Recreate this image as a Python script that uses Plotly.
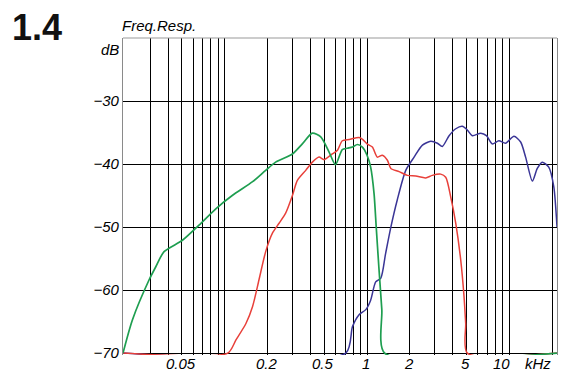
import numpy as np
import plotly.graph_objects as go

# ---- data (frequency in kHz, level in dB) ----
green_f = [0.0193, 0.0225, 0.0294, 0.0328, 0.0375, 0.0505, 0.066, 0.0866, 0.113, 0.157, 0.194, 0.228, 0.299,
           0.351, 0.413, 0.473, 0.541, 0.6, 0.67, 0.727, 0.79, 0.855, 0.927, 1.0, 1.06, 1.12, 1.16, 1.21,
           1.27, 1.33, 21.6]
green_db = [-70, -64.7, -58.4, -56.3, -53.9, -52.1, -49.7, -47.1, -45.0, -42.8, -41.0, -39.7, -38.4,
            -36.8, -35.1, -35.7, -38.1, -40.1, -37.7, -37.5, -37.3, -36.9, -37.3, -38.6, -40.5, -44.7, -50.0, -56.3,
            -63.1, -70, -70]

red_f = [0.0193, 0.105, 0.12, 0.141, 0.157, 0.174, 0.194, 0.216, 0.241, 0.268, 0.299, 0.324, 0.371, 0.413,
         0.46, 0.499, 0.57, 0.62, 0.67, 0.75, 0.879, 0.93, 1.0, 1.09, 1.18, 1.28, 1.39, 1.47, 1.68, 1.92, 2.2,
         2.58, 2.87, 3.29, 3.57, 3.87, 4.2, 4.55, 4.8, 4.93, 5.06, 21.6]
red_db = [-70, -70, -67.9, -65.3, -62.6, -58.4, -53.9, -51.0, -49.4, -47.8, -45.0, -42.6, -41.0, -39.7,
          -38.9, -39.3, -38.4, -37.8, -36.3, -36.1, -35.8, -36.1, -36.8, -37.3, -38.9, -38.6, -39.4, -40.7, -41.2, -41.8, -41.9,
          -42.2, -41.8, -41.6, -42.1, -45.2, -49.4, -55.2, -61.0, -65.3, -70, -70]

blue_f = [0.0193, 0.709, 0.79, 0.879, 0.98, 1.06, 1.15, 1.25, 1.35, 1.47, 1.63, 1.87, 2.14, 2.45, 2.8, 3.12,
          3.38, 3.77, 4.2, 4.67, 5.06, 5.49, 6.3, 6.9, 7.58, 8.44, 9.4, 10.77, 12.0, 13.0, 14.5, 15.7, 17.0,
          18.9, 20.5, 21.6]
blue_db = [-70, -70, -65.8, -63.9, -63.1, -61.6, -58.7, -58.1, -54.2, -50.0, -45.7, -41.0, -38.9, -37.0, -36.4, -36.7,
           -37.2, -35.5, -34.4, -34.0, -34.6, -35.5, -35.1, -35.5, -36.8, -36.3, -36.7, -35.6, -36.5, -38.9, -42.7, -40.7, -39.7,
           -40.5, -43.6, -50]

x_grid = [0.03, 0.04, 0.05, 0.06, 0.07, 0.08, 0.09, 0.1, 0.2, 0.3, 0.4, 0.5, 0.6, 0.7, 0.8, 0.9,
          1, 2, 3, 4, 5, 6, 7, 8, 9, 10, 20]
x_label_vals = [0.05, 0.2, 0.5, 1, 2, 5, 10]
x_label_text = ["0.05", "0.2", "0.5", "1", "2", "5", "10"]
y_tick_vals = [-70, -60, -50, -40, -30]
y_tick_text = ["\u221270", "\u221260", "\u221250", "\u221240", "\u221230"]

FONT = "Liberation Sans, Arial, sans-serif"
W, H = 561, 369
ML, MR, MT, MB = 123, 4, 38, 14
PW, PH = W - ML - MR, H - MT - MB

fig = go.Figure()
fig.add_trace(go.Scatter(x=blue_f, y=blue_db, mode="lines",
                         line=dict(color="#3a3596", width=1.5, shape="spline", smoothing=0.7)))
fig.add_trace(go.Scatter(x=red_f, y=red_db, mode="lines",
                         line=dict(color="#e8403a", width=1.5, shape="spline", smoothing=0.7)))
fig.add_trace(go.Scatter(x=green_f, y=green_db, mode="lines",
                         line=dict(color="#1e9e50", width=1.7, shape="spline", smoothing=0.7)))

fig.update_layout(
    width=W, height=H,
    margin=dict(l=ML, r=MR, t=MT, b=MB),
    paper_bgcolor="white", plot_bgcolor="white",
    showlegend=False,
    xaxis=dict(type="log", range=[np.log10(0.0193), np.log10(21.6)],
               tickvals=x_grid, showticklabels=False, ticks="",
               showgrid=True, gridcolor="black", gridwidth=1,
               showline=False, zeroline=False, layer="below traces"),
    yaxis=dict(range=[-70.3, -20], tickvals=y_tick_vals, ticktext=y_tick_text,
               ticks="", showgrid=True, gridcolor="black", gridwidth=1,
               showline=True, linecolor="#8a8a8a", linewidth=1.2, mirror=True,
               zeroline=False, layer="below traces",
               tickfont=dict(family=FONT, size=15, color="black", style="italic")),
)

# top border
fig.add_shape(type="line", xref="paper", yref="paper", x0=0, x1=1, y0=1, y1=1,
              line=dict(color="#9a9a9a", width=1.2))

italic = dict(family=FONT, size=15, color="black", style="italic")

# x tick labels
for v, t in zip(x_label_vals, x_label_text):
    fig.add_annotation(x=np.log10(v), y=0, xref="x", yref="paper", text=t, showarrow=False,
                       xanchor="center", yanchor="top", yshift=2, xshift=(-8 if t == "10" else -1),
                       font=italic)
fig.add_annotation(x=np.log10(15.8), y=0, xref="x", yref="paper", text="kHz", showarrow=False,
                   xanchor="center", yanchor="top", yshift=2, font=italic)

fig.add_annotation(x=0, y=1, xref="paper", yref="paper", text="dB", showarrow=False,
                   xanchor="right", yanchor="top", xshift=-2, yshift=-1, font=italic)
fig.add_annotation(x=0, y=1, xref="paper", yref="paper", text="Freq.Resp.", showarrow=False,
                   xanchor="left", yanchor="bottom", xshift=-3, yshift=2, font=italic)

# big figure number
fig.add_annotation(x=-(ML - 10) / PW, y=1 + (MT - 27) / PH, xref="paper", yref="paper",
                   text="1.4", showarrow=False, xanchor="left", yanchor="middle",
                   font=dict(family="Liberation Sans, Arial", size=36, color="#111", weight=700))

fig.write_html("out.html")
